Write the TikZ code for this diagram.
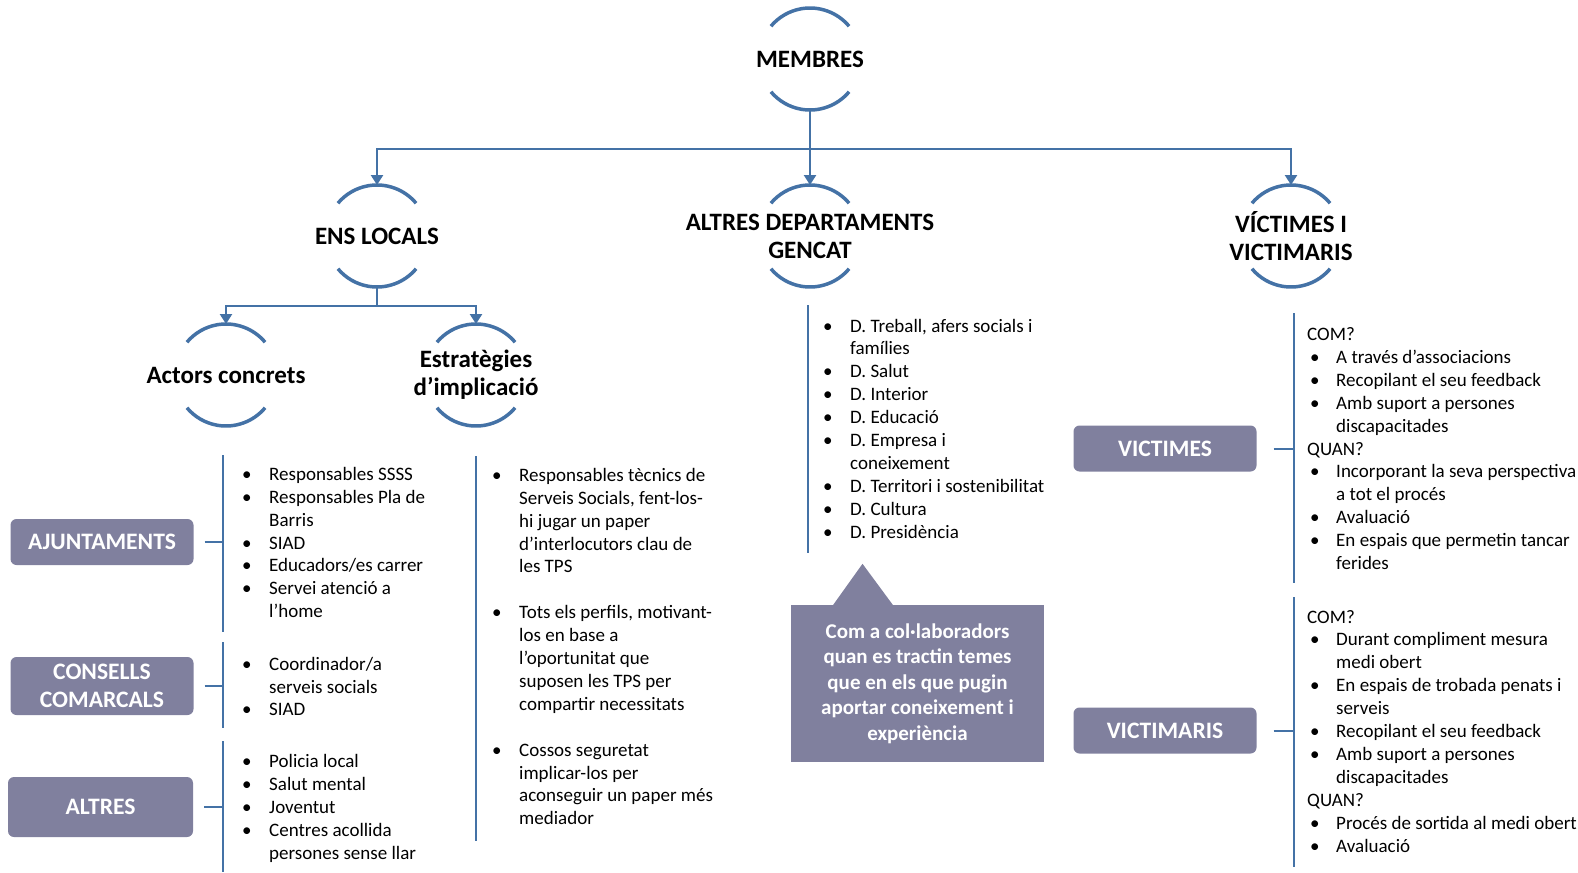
\documentclass[tikz,border=0pt]{standalone}
\usepackage{fontspec}
\setmainfont{Carlito}
\usetikzlibrary{arrows.meta, positioning, calc}
\definecolor{linkblue}{RGB}{68,114,166}
\definecolor{tagpurple}{RGB}{128,128,158}
\newcommand{\bodyfont}{\fontsize{19}{22.9}\selectfont}
\newcommand{\headfont}{\fontsize{25}{28}\selectfont\bfseries}
\newcommand{\tagfont}{\fontsize{23.6}{28}\selectfont\bfseries}
\newcommand{\notefont}{\fontsize{21}{25.4}\selectfont\bfseries}
\newcommand{\itm}{\textbullet &}
\newcommand{\ask}[1]{\multicolumn{2}{@{}l@{}}{#1}}

\begin{document}
\begin{tikzpicture}[x=1pt, y=1pt,
  ring/.style={circle, minimum size=102pt, inner sep=0pt, outer sep=0pt},
  ringtext/.style={font=\headfont, align=center, inner sep=0pt},
  arcline/.style={draw=linkblue, line width=3.5pt},
  link/.style={draw=linkblue, line width=2.5pt},
  bracket/.style={draw=linkblue, line width=2pt},
  tag/.style={fill=tagpurple, rounded corners=6pt, text=white, font=\tagfont, align=center, inner sep=0pt, minimum width=183pt, minimum height=46pt},
  items/.style={anchor=west, inner sep=0pt, font=\bodyfont},
  >={Triangle[length=10pt, width=12pt]}
]
\useasboundingbox (0,0) rectangle (1578,-872);

% rings and their titles
\node[ring] (membres) at (810,-59) {};
\node[ring] (ens) at (377,-236) {};
\node[ring] (altres) at (810,-236) {};
\node[ring] (victimes) at (1291,-236) {};
\node[ring] (actors) at (226,-375) {};
\node[ring] (estrat) at (476,-375) {};
\foreach \r in {membres, ens, altres, victimes, actors, estrat} {
  \draw[arcline] (\r.40) arc (40:140:51);
  \draw[arcline] (\r.-40) arc (-40:-140:51);
}
\node[ringtext] at (membres) {MEMBRES};
\node[ringtext] at (ens) {ENS LOCALS};
\node[ringtext] at (altres) {ALTRES DEPARTAMENTS\\GENCAT};
\node[ringtext] at (victimes) {VÍCTIMES I\\VICTIMARIS};
\node[ringtext] at (actors) {Actors concrets};
\node[ringtext] at (estrat) {Estratègies\\d’implicació};

% tree
\coordinate (topbus) at ($(membres.south)+(0,-39)$);
\draw[link] (membres.south) -- (topbus);
\draw[link, ->] (topbus) -| (ens.north);
\draw[link, ->] (topbus) -- (altres.north);
\draw[link, ->] (topbus) -| (victimes.north);
\coordinate (ensbus) at ($(ens.south)+(0,-19)$);
\draw[link] (ens.south) -- (ensbus);
\draw[link, ->] (ensbus) -| (actors.north);
\draw[link, ->] (ensbus) -| (estrat.north);

% left tags
\node[tag] (ajunt) at (102,-542) {AJUNTAMENTS};
\node[tag, minimum height=58pt] (consells) at (102,-686) {CONSELLS\\COMARCALS};
\node[tag, minimum height=60pt, minimum width=185pt] (altresloc) at (100.5,-807) {ALTRES};
\draw[bracket] (223,-455) -- (223,-632);
\draw[bracket] (223,-642) -- (223,-728);
\draw[bracket] (223,-741) -- (223,-872);
\draw[bracket] ([xshift=11pt]ajunt.east) -- ++(19,0);
\draw[bracket] ([xshift=11pt]consells.east) -- ++(19,0);
\draw[bracket] ([xshift=11pt]altresloc.east) -- ++(19,0);

\node[items] (ajlist) at (242,-544.5) {\begin{tabular}{@{}p{27pt}@{}l@{}}
\itm Responsables SSSS\\
\itm Responsables Pla de\\
 & Barris\\
\itm SIAD\\
\itm Educadors/es carrer\\
\itm Servei atenció a\\
 & l’home
\end{tabular}};
\node[items] (conslist) at (242,-688.5) {\begin{tabular}{@{}p{27pt}@{}l@{}}
\itm Coordinador/a\\
 & serveis socials\\
\itm SIAD
\end{tabular}};
\node[items] (altlist) at (242,-809) {\begin{tabular}{@{}p{27pt}@{}l@{}}
\itm Policia local\\
\itm Salut mental\\
\itm Joventut\\
\itm Centres acollida\\
 & persones sense llar
\end{tabular}};

% strategies
\draw[bracket] (476,-456) -- (476,-841);
\node[items] (estlist) at (492,-648.5) {\begin{tabular}{@{}p{27pt}@{}l@{}}
\itm Responsables tècnics de\\
 & Serveis Socials, fent-los-\\
 & hi jugar un paper\\
 & d’interlocutors clau de\\
 & les TPS\\
 & \\
\itm Tots els perfils, motivant-\\
 & los en base a\\
 & l’oportunitat que\\
 & suposen les TPS per\\
 & compartir necessitats\\
 & \\
\itm Cossos seguretat\\
 & implicar-los per\\
 & aconseguir un paper més\\
 & mediador
\end{tabular}};

% departments
\draw[bracket] (808,-305) -- (808,-553);
\node[items] (deplist) at (823,-430.5) {\begin{tabular}{@{}p{27pt}@{}l@{}}
\itm D. Treball, afers socials i\\
 & famílies\\
\itm D. Salut\\
\itm D. Interior\\
\itm D. Educació\\
\itm D. Empresa i\\
 & coneixement\\
\itm D. Territori i sostenibilitat\\
\itm D. Cultura\\
\itm D. Presidència
\end{tabular}};
\node[fill=tagpurple, text=white, font=\notefont, align=center, inner sep=0pt,
  minimum width=253pt, minimum height=157pt] (collab) at (917.5,-683.5)
  {Com a col·laboradors\\quan es tractin temes\\que en els que pugin\\aportar coneixement i\\experiència};
\fill[tagpurple] ([xshift=-85pt, yshift=-1pt]collab.north) -- ([xshift=-55pt, yshift=41pt]collab.north)
  -- ([xshift=-24pt, yshift=-1pt]collab.north) -- cycle;

% victims and offenders
\node[tag] (victag) at (1165,-448.5) {VICTIMES};
\node[tag] (offtag) at (1165,-730.5) {VICTIMARIS};
\draw[bracket] (1294,-313) -- (1294,-583);
\draw[bracket] (1294,-597) -- (1294,-867);
\draw[bracket] ([xshift=17pt]victag.east) -- ++(20,0);
\draw[bracket] ([xshift=17pt]offtag.east) -- ++(20,0);
\node[items] (viclist) at (1307,-450.5) {\begin{tabular}{@{\hspace{3pt}}p{26pt}@{}l@{}}
\ask{COM?}\\
\itm A través d’associacions\\
\itm Recopilant el seu feedback\\
\itm Amb suport a persones\\
 & discapacitades\\
\ask{QUAN?}\\
\itm Incorporant la seva perspectiva\\
 & a tot el procés\\
\itm Avaluació\\
\itm En espais que permetin tancar\\
 & ferides
\end{tabular}};
\node[items] (offlist) at (1307,-733) {\begin{tabular}{@{\hspace{3pt}}p{26pt}@{}l@{}}
\ask{COM?}\\
\itm Durant compliment mesura\\
 & medi obert\\
\itm En espais de trobada penats i\\
 & serveis\\
\itm Recopilant el seu feedback\\
\itm Amb suport a persones\\
 & discapacitades\\
\ask{QUAN?}\\
\itm Procés de sortida al medi obert\\
\itm Avaluació
\end{tabular}};
\end{tikzpicture}
\end{document}
